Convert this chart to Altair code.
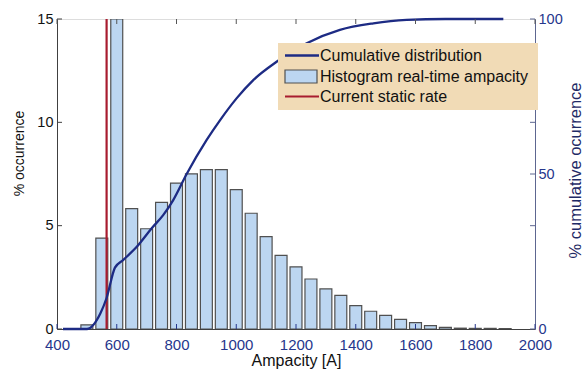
import altair as alt
import pandas as pd

# ---------------- data ----------------
bin_centers = [500, 550, 600, 650, 700, 750, 800, 850, 900, 950,
               1000, 1050, 1100, 1150, 1200, 1250, 1300, 1350, 1400, 1450,
               1500, 1550, 1600, 1650, 1700, 1750, 1800, 1850, 1900]
occurrence = [0.2, 4.4, 15.0, 5.82, 4.85, 6.13, 7.06, 7.51, 7.71, 7.71,
              6.74, 5.6, 4.47, 3.56, 3.01, 2.42, 1.94, 1.63, 1.13, 0.86,
              0.66, 0.47, 0.31, 0.16, 0.08, 0.04, 0.03, 0.03, 0.02]

cum_ampacity = [420, 500, 545, 566, 594, 622, 667, 717, 756, 789, 834,
                901, 946, 1001, 1057, 1135, 1236, 1347, 1459, 1570, 1700, 1894]
cum_percent = [0, 0, 5, 10, 19.8, 22.3, 26.5, 32.5, 36.8, 41.6, 50,
               61, 67.4, 74.4, 80.3, 86.2, 92.2, 96.5, 98.6, 99.7, 100, 100]

static_rate = [566]

x_ticks = [400, 600, 800, 1000, 1200, 1400, 1600, 1800, 2000]
left_ticks = [0, 5, 10, 15]
right_labels = [0, 50, 100]
right_ticks = [0, 33.33, 50, 66.67, 100]

legend_labels = ["Cumulative distribution", "Histogram real-time ampacity", "Current static rate"]

# ---------------- styling ----------------
NAVY = "#1d2b84"
AXIS_BLUE = "#26368c"
RED = "#a81c2f"
BAR_FILL = "#bcd6f1"
BAR_EDGE = "#505050"
PLOT_BG = "#fdf4e8"
LEGEND_BG = "#f1dbb6"
FONT = "Liberation Sans"
W, H = 478, 310

hist_df = pd.DataFrame({"center": bin_centers, "pct": occurrence})
cum_df = pd.DataFrame({"amp": cum_ampacity, "cum": cum_percent})
rate_df = pd.DataFrame({"rate": static_rate})
xt_df = pd.DataFrame({"v": x_ticks})
lt_df = pd.DataFrame({"v": left_ticks})
rt_df = pd.DataFrame({"v": right_ticks})
one = pd.DataFrame({"k": [0]})

xscale = alt.Scale(domain=[400, 2000], nice=False, zero=False)
x_axis = alt.Axis(values=x_ticks, format="d", ticks=False, tickSize=0, grid=False,
                  labelFlush=False, labelOverlap=False, labelBound=False,
                  labelColor=AXIS_BLUE, labelFontSize=15, labelPadding=8,
                  labelFont=FONT, domainColor="#404040",
                  title="Ampacity [A]", titleFont=FONT, titleFontSize=16,
                  titleFontWeight="normal", titleColor="#111111",
                  titleBaseline="alphabetic", titleY=36.5)
lscale = alt.Scale(domain=[0, 15], nice=False, zero=True)
rscale = alt.Scale(domain=[0, 100], nice=False, zero=True)


def X(field):
    return alt.X(field, type="quantitative", scale=xscale, axis=x_axis)


bars = alt.Chart(hist_df).transform_calculate(
    lo="datum.center - 20", hi="datum.center + 20"
).mark_bar(fill=BAR_FILL, stroke=BAR_EDGE, strokeWidth=1.2, clip=True).encode(
    x=X("lo"),
    x2="hi:Q",
    y=alt.Y("pct:Q", scale=lscale,
            axis=alt.Axis(values=left_ticks, format="d", ticks=False, tickSize=0, grid=False,
                          labelFlush=False, labelOverlap=False, labelBound=False,
                          labelColor="#111111", labelFontSize=14.5, labelPadding=4,
                          labelFont=FONT, domainColor="#404040",
                          title="% occurrence", titleFont=FONT, titleFontSize=14,
                          titleFontWeight="normal", titleColor="#111111",
                          titleAngle=270, titleBaseline="middle",
                          titleX=-38, titleY=134)),
    y2=alt.datum(0),
)

rate = alt.Chart(rate_df).mark_rule(color=RED, strokeWidth=2.2).encode(x=X("rate"))

cum_line = alt.Chart(cum_df).mark_line(color=NAVY, strokeWidth=2.3, interpolate="monotone").encode(
    x=X("amp"),
    y=alt.Y("cum:Q", scale=rscale,
            axis=alt.Axis(orient="right", values=right_labels, format="d", ticks=False,
                          tickSize=0, grid=False, labelFlush=False, labelOverlap=False,
                          labelBound=False, labelColor=AXIS_BLUE, labelFontSize=14.5,
                          labelPadding=3, labelFont=FONT, domainColor="#5d6690",
                          title="% cumulative ocurrence", titleFont=FONT,
                          titleFontSize=16.5, titleFontWeight="normal",
                          titleColor="#1f2a66", titleAngle=270,
                          titleBaseline="middle", titleX=40, titleY=151)),
)

# inward tick marks (MATLAB style)
xt_bottom = alt.Chart(xt_df).mark_rule(color=AXIS_BLUE, strokeWidth=1).encode(
    x=X("v"), y=alt.value(H), y2=alt.value(H - 5))
xt_top = alt.Chart(xt_df).mark_rule(color="#555555", strokeWidth=1).encode(
    x=X("v"), y=alt.value(0), y2=alt.value(5))
lt = alt.Chart(lt_df).mark_rule(color="#404040", strokeWidth=1).encode(
    y=alt.Y("v:Q", scale=lscale, axis=None), x=alt.value(0), x2=alt.value(5))
rt = alt.Chart(rt_df).mark_rule(color="#5d6690", strokeWidth=1).encode(
    y=alt.Y("v:Q", scale=rscale, axis=None), x=alt.value(W), x2=alt.value(W - 5))

# legend box
LX0, LX1, LY0, LY1 = 221, 481, 24, 91
leg_bg = alt.Chart(one).mark_rect(fill=LEGEND_BG, stroke=None).encode(
    x=alt.value(LX0), x2=alt.value(LX1), y=alt.value(LY0), y2=alt.value(LY1))
leg_l1 = alt.Chart(one).mark_rule(color=NAVY, strokeWidth=2.3).encode(
    x=alt.value(228), x2=alt.value(262), y=alt.value(36.5))
leg_r2 = alt.Chart(one).mark_rect(fill=BAR_FILL, stroke=BAR_EDGE, strokeWidth=1.2).encode(
    x=alt.value(228), x2=alt.value(260), y=alt.value(51), y2=alt.value(64))
leg_l3 = alt.Chart(one).mark_rule(color=RED, strokeWidth=2.2).encode(
    x=alt.value(228), x2=alt.value(262), y=alt.value(77.5))
leg_texts = [
    alt.Chart(one).mark_text(align="left", baseline="middle", font=FONT, fontSize=16,
                             color="#111111").encode(
        x=alt.value(263), y=alt.value(yy), text=alt.value(lbl))
    for lbl, yy in zip(legend_labels, [37, 57.5, 78])
]

chart = alt.layer(
    bars, rate, cum_line, xt_bottom, xt_top, lt, rt,
    leg_bg, leg_l1, leg_r2, leg_l3, *leg_texts
).resolve_scale(y="independent").properties(
    width=W, height=H,
    autosize=alt.AutoSizeParams(type="none"),
    padding={"left": 57, "top": 19, "right": 49, "bottom": 40},
    background="white",
).configure_view(
    fill=PLOT_BG, stroke="#808080", strokeWidth=1
).configure(font=FONT)

chart.save("out.html", embed_options={"renderer": "svg", "actions": False})
